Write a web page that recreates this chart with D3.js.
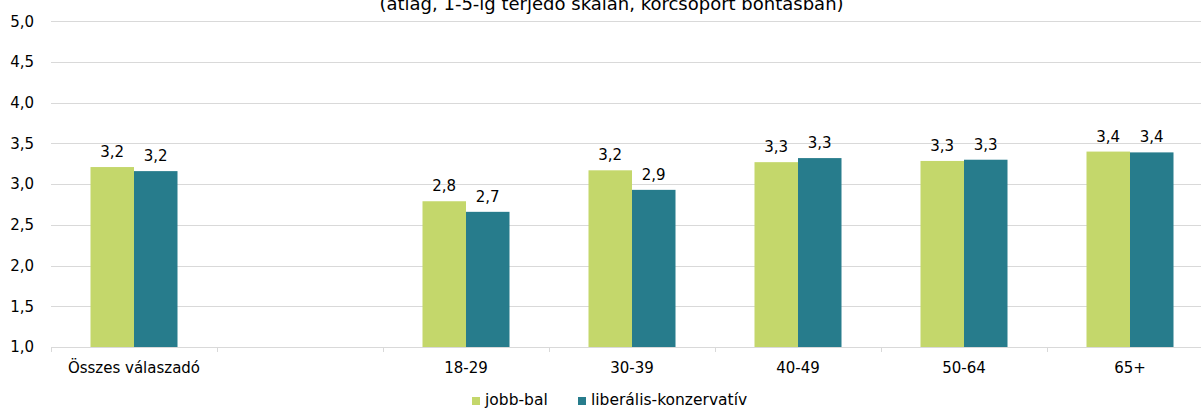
<!DOCTYPE html>
<html><head><meta charset="utf-8">
<script src="https://cdn.jsdelivr.net/npm/d3@7/dist/d3.min.js"></script>
<style>body{margin:0;background:#fff}svg{display:block}text{font-family:"DejaVu Sans",sans-serif;fill:#000}</style>
</head><body>
<script>
const categories = ["Összes válaszadó", "", "18-29", "30-39", "40-49", "50-64", "65+"];
const seriesNames = ["jobb-bal", "liberális-konzervatív"];
const jobbBal = [3.21, null, 2.79, 3.17, 3.27, 3.285, 3.40];
const libKonz = [3.16, null, 2.66, 2.93, 3.32, 3.30, 3.39];
const labelsJB = ["3,2", "", "2,8", "3,2", "3,3", "3,3", "3,4"];
const labelsLK = ["3,2", "", "2,7", "2,9", "3,3", "3,3", "3,4"];
const yTicks = [1, 1.5, 2, 2.5, 3, 3.5, 4, 4.5, 5];
const title = "(átlag, 1-5-ig terjedő skálán, korcsoport bontásban)";
const colors = ["#c4d76b", "#277c8c"];

const W = 1201, H = 408;
const svg = d3.select("body").append("svg").attr("width", W).attr("height", H);

const x = d3.scaleBand().domain(d3.range(categories.length)).range([51, 1213]).paddingInner(0).paddingOuter(0);
const y = d3.scaleLinear().domain([1, 5]).range([347, 21.3]);
const bw = 43.5;

// gridlines
svg.append("g").selectAll("line").data(yTicks.slice(1)).join("line")
  .attr("x1", 51).attr("x2", W).attr("y1", d => Math.round(y(d)) + 0.5).attr("y2", d => Math.round(y(d)) + 0.5)
  .attr("stroke", "#d9d9d9").attr("stroke-width", 1);

// y axis labels
svg.append("g").selectAll("text").data(yTicks).join("text")
  .attr("x", 34).attr("y", d => y(d)).attr("dy", "0.35em").attr("text-anchor", "end")
  .style("font-size", "15px").text(d => d.toFixed(1).replace(".", ","));

// bars
const series = [jobbBal, libKonz];
const labs = [labelsJB, labelsLK];
series.forEach((vals, si) => {
  const g = svg.append("g");
  const data = vals.map((v, i) => ({v, i})).filter(d => d.v != null);
  g.selectAll("rect").data(data).join("rect")
    .attr("x", d => x(d.i) + x.bandwidth() / 2 - bw + si * bw)
    .attr("width", bw)
    .attr("y", d => y(d.v)).attr("height", d => y(1) - y(d.v))
    .attr("fill", colors[si]);
  g.selectAll("text").data(data).join("text")
    .attr("x", d => x(d.i) + x.bandwidth() / 2 - bw + si * bw + bw / 2)
    .attr("y", d => y(d.v) - 10)
    .attr("text-anchor", "middle").style("font-size", "15px")
    .text(d => labs[si][d.i]);
});

// x axis
const ax = svg.append("g");
ax.append("line").attr("x1", 51).attr("x2", W).attr("y1", 347.5).attr("y2", 347.5).attr("stroke", "#d9d9d9");
ax.selectAll("line.t").data(d3.range(categories.length + 1)).join("line").attr("class", "t")
  .attr("x1", i => Math.round(51 + i * x.bandwidth()) + 0.5).attr("x2", i => Math.round(51 + i * x.bandwidth()) + 0.5)
  .attr("y1", 347).attr("y2", 352).attr("stroke", "#d9d9d9");
ax.selectAll("text").data(categories).join("text")
  .attr("x", (d, i) => x(i) + x.bandwidth() / 2).attr("y", 373)
  .attr("text-anchor", "middle").style("font-size", "15px").text(d => d);

// title
svg.append("text").attr("x", 611.5).attr("y", 10).attr("text-anchor", "middle").style("font-size", "18px").text(title);

// legend
const leg = svg.append("g");
const legX = [472, 578];
seriesNames.forEach((n, i) => {
  leg.append("rect").attr("x", legX[i]).attr("y", 397).attr("width", 8).attr("height", 8).attr("fill", colors[i]);
  leg.append("text").attr("x", legX[i] + 13).attr("y", 405).style("font-size", "15.5px").text(n);
});
</script>
</body></html>
